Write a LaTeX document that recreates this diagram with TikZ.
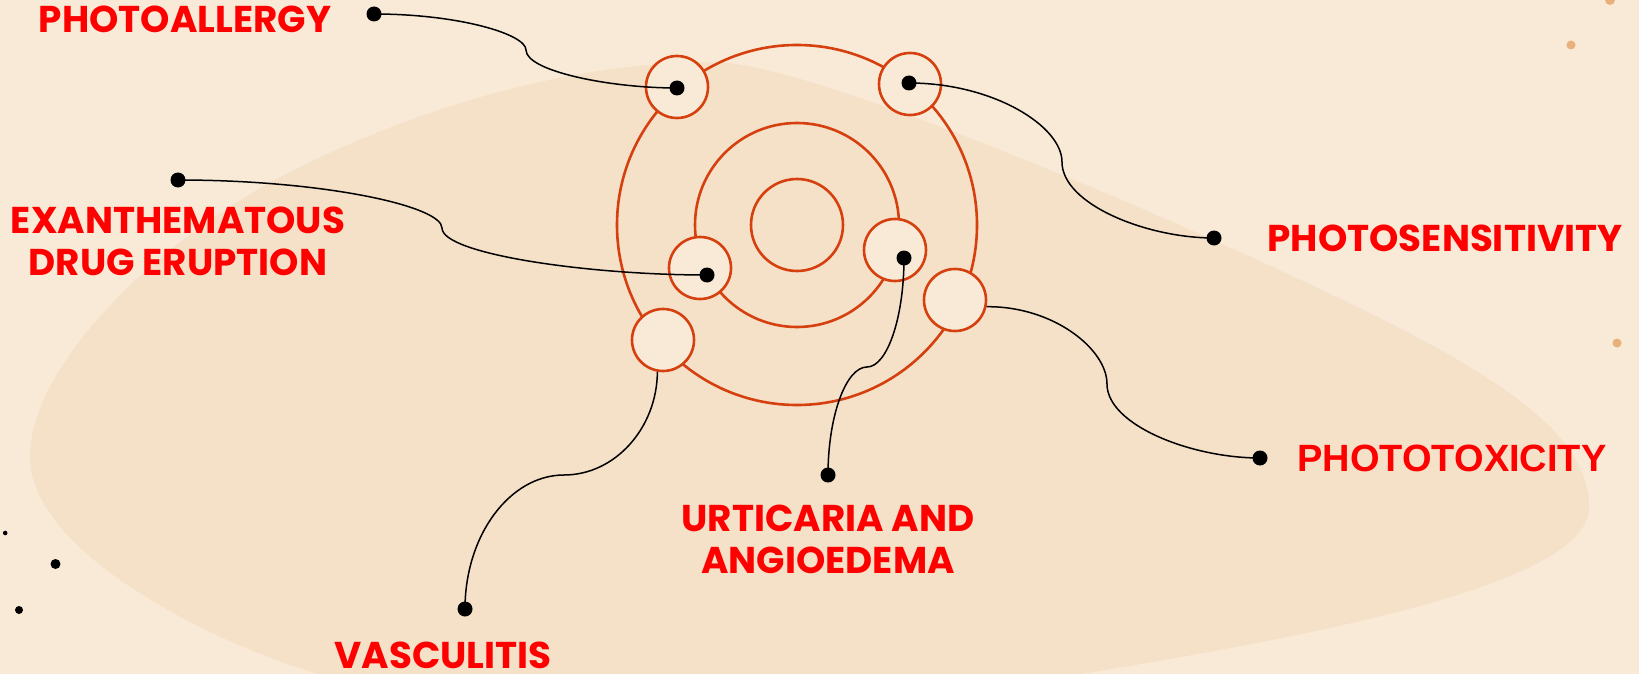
\documentclass[tikz,border=0pt]{standalone}
\usepackage{fontspec}
\setmainfont{Poppins}
\newfontfamily\arialb{Liberation Sans}
\definecolor{bg}{HTML}{F9EAD7}
\definecolor{blob}{HTML}{F5E0C8}
\definecolor{orb}{HTML}{D6400E}
\definecolor{lbl}{HTML}{FF0000}
\definecolor{speck}{HTML}{E8B07A}
\begin{document}
\begin{tikzpicture}[x=1pt,y=-1pt,
  orbit/.style={circle, draw=orb, line width=2.6pt, inner sep=0pt},
  planet/.style={circle, draw=orb, line width=2.6pt, fill=bg, minimum size=62pt, inner sep=0pt},
  pin/.style={circle, fill=black, minimum size=15pt, inner sep=0pt},
  link/.style={draw=black, line width=1.5pt},
  lab/.style={text=lbl, font=\bfseries\fontsize{37.3}{42.5}\selectfont, inner sep=0pt, anchor=base},
]
\useasboundingbox (0,0) rectangle (1639,674);
\clip (0,0) rectangle (1639,674);
\fill[bg] (0,0) rectangle (1639,674);
\fill[blob] (30,457)
  .. controls (30,360) and (170,230) .. (300,167)
  .. controls (456,91) and (600,62) .. (713,62)
  .. controls (800,62) and (1093,186) .. (1213,240)
  .. controls (1463,352) and (1589,420) .. (1589,507)
  .. controls (1589,580) and (1350,630) .. (1081,674)
  .. controls (866,709) and (500,730) .. (318,674)
  .. controls (188,634) and (30,545) .. cycle;
% specks
\fill[black] (5.2,533) circle[radius=2.3pt];
\fill[black] (55.5,564) circle[radius=5pt];
\fill[black] (19,610) circle[radius=4pt];
\fill[speck] (1610,0) circle[radius=5pt];
\fill[speck] (1571,45) circle[radius=4.5pt];
\fill[speck] (1617,343) circle[radius=4.5pt];
% orbits
\node[orbit, minimum size=360pt] (outer) at (797,225) {};
\node[orbit, minimum size=204pt] (middle) at (797,225) {};
\node[orbit, minimum size=92pt] (core) at (797,225) {};
% planets
\node[planet] (p1) at (677,87) {};
\node[planet] (p2) at (910,84) {};
\node[planet] (p3) at (700,268) {};
\node[planet] (p4) at (895,250) {};
\node[planet] (p5) at (955,300) {};
\node[planet] (p6) at (663,340) {};
% pins
\node[pin] (d1) at (677,88) {};
\node[pin] (d2) at (909,83) {};
\node[pin] (d3) at (707,275) {};
\node[pin] (d4) at (904,258) {};
\node[pin] (a1) at (374,14) {};
\node[pin] (a2) at (1214,238) {};
\node[pin] (a3) at (178,180) {};
\node[pin] (a4) at (828,475) {};
\node[pin] (a5) at (1260,458) {};
\node[pin] (a6) at (465,609) {};
% connectors
\path[link] (a1.center) .. controls (458,14) and (526,34) .. (526,50) .. controls (526,71) and (609,88) .. (d1.center);
\path[link] (a3.center) .. controls (323,180) and (442,206) .. (442,228) .. controls (442,254) and (588,275) .. (d3.center);
\path[link] (d2.center) .. controls (993,83) and (1062,126) .. (1062,162) .. controls (1062,204) and (1146,238) .. (a2.center);
\path[link] (p5.-12) .. controls (1053,306) and (1107,349) .. (1107,384) .. controls (1107,425) and (1191,458) .. (a5.center);
\path[link] (d4.center) .. controls (904,318) and (887,367) .. (867,367) .. controls (846,367) and (828,416) .. (a4.center);
\path[link] (p6.-100) .. controls (657,428) and (615,475) .. (564,475) .. controls (510,475) and (465,535) .. (a6.center);
% labels
\node[lab] (t1) at (185,33) {PHOTOALLERGY};
\node[lab] (t3) at (178,233) {\begin{tabular}[t]{@{}c@{}}EXANTHEMATOUS\\DRUG ERUPTION\end{tabular}};
\node[lab] (t2) at (1445,251) {PHOTOSENSITIVITY};
\node[lab, font=\arialb\bfseries\fontsize{38}{42}\selectfont] (t5) at (1452,471) {PHOTOTOXICITY};
\node[lab] (t4) at (828,531) {\begin{tabular}[t]{@{}c@{}}URTICARIA AND\\ANGIOEDEMA\end{tabular}};
\node[lab] (t6) at (443,668) {VASCULITIS};
\end{tikzpicture}
\end{document}
